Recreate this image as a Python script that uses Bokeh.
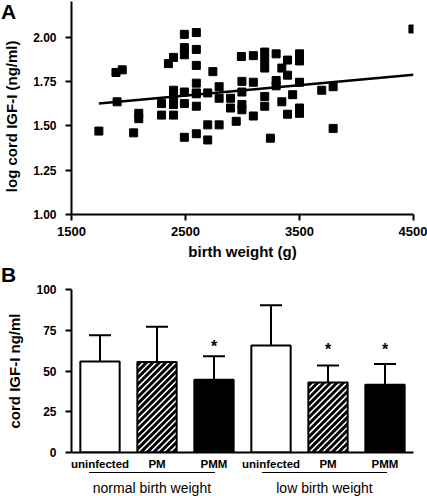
from bokeh.plotting import figure
from bokeh.models import (Range1d, FactorRange, Whisker, TeeHead, Div,
                          ColumnDataSource, FixedTicker, NumeralTickFormatter)
from bokeh.layouts import column
from bokeh.embed import file_html
from bokeh.resources import INLINE
from bokeh.core.properties import value

FONT = "Liberation Sans"

# ---------------- Panel A data ----------------
birth_weight = [1740, 1890, 1945, 1900, 2045, 2090, 2090, 2290, 2290, 2350,
                2395, 2395, 2395, 2395, 2395, 2490, 2490, 2490, 2490, 2490,
                2490, 2595, 2595, 2595, 2595, 2595, 2595, 2595, 2595, 2695,
                2695, 2695, 2740, 2795, 2795, 2795, 2895, 2895, 2945, 2990,
                2995, 2995, 2995, 2995, 3095, 3095, 3095, 3195, 3195, 3195,
                3195, 3195, 3245, 3295, 3295, 3295, 3345, 3345, 3395, 3395,
                3395, 3440, 3500, 3500, 3500, 3500, 3500, 3695, 3795, 3795,
                4495]
log_igf = [1.47, 1.80, 1.815, 1.635, 1.46, 1.57, 1.54, 1.625, 1.56, 1.85,
           1.885, 1.70, 1.66, 1.62, 1.56, 2.015, 1.94, 1.90, 1.69, 1.625,
           1.435, 2.025, 1.93, 1.84, 1.74, 1.685, 1.61, 1.455, 1.68, 1.685,
           1.505, 1.42, 1.805, 1.72, 1.655, 1.505, 1.655, 1.60, 1.525, 1.89,
           1.75, 1.69, 1.62, 1.59, 1.895, 1.745, 1.555, 1.915, 1.87, 1.825,
           1.665, 1.61, 1.43, 1.905, 1.755, 1.725, 1.825, 1.635, 1.87, 1.785,
           1.565, 1.675, 1.905, 1.865, 1.745, 1.60, 1.57, 1.70, 1.72, 1.485,
           2.045]
fit_bw = [1740, 4500]
fit_log_igf = [1.625, 1.787]
a_xticks = [1500, 2500, 3500, 4500]
a_yticks = [1.00, 1.25, 1.50, 1.75, 2.00]

# ---------------- Panel B data ----------------
groups = ["normal birth weight", "low birth weight"]
infection = ["uninfected", "PM", "PMM"]
igf_mean = [55.9, 55.5, 44.7, 65.6, 43.0, 41.6]
igf_sd = [16.0, 21.7, 14.3, 24.8, 10.4, 12.7]
signif = ["", "", "*", "", "*", "*"]
signif_y = [0, 0, 65.0, 0, 63.3, 63.3]
b_yticks = [0, 25, 50, 75, 100]

# ---------------- layout constants ----------------
W = 427
LEFT, RIGHT = 68, 14
A_H, B_H, C_H = 262, 210, 24
B_TOP, B_BOTTOM = 27, 19
FRAME_W = W - LEFT - RIGHT
FRAME_H_B = B_H - B_TOP - B_BOTTOM
BAR_W = 0.69


def style_axis(ax, label_size):
    ax.axis_line_width = 2
    ax.axis_line_color = "black"
    ax.major_tick_line_width = 2
    ax.major_tick_line_color = "black"
    ax.major_tick_in = 0
    ax.major_tick_out = 6
    ax.minor_tick_line_color = None
    ax.major_label_text_font = FONT
    ax.major_label_text_font_style = "bold"
    ax.major_label_text_font_size = label_size
    ax.major_label_text_color = "black"
    ax.axis_label_text_font = FONT
    ax.axis_label_text_font_style = "bold"
    ax.axis_label_text_font_size = "15px"
    ax.axis_label_text_color = "black"


def panel_letter(letter, top, flow_height):
    # bold panel letter laid over the top-left corner of the figure above it
    h = 24
    return Div(text=letter, width=24, height=h,
               margin=(-(flow_height - top), 0, flow_height - top - h, 1),
               styles={"font-family": FONT, "font-weight": "bold",
                       "font-size": "21px", "line-height": "21px",
                       "color": "black"})


# ---------------- Panel A ----------------
pA = figure(width=W, height=A_H, x_range=Range1d(1500, 4500),
            y_range=Range1d(1.0, 2.2), output_backend="svg",
            toolbar_location=None, min_border_left=LEFT,
            min_border_right=RIGHT, min_border_top=1, min_border_bottom=45)
pA.outline_line_color = None
pA.grid.grid_line_color = None
pA.border_fill_color = None

pA.scatter(birth_weight, log_igf, marker="square", size=8,
           fill_color="black", line_color="black")
pA.line(fit_bw, fit_log_igf, line_width=2.5, line_color="black")

style_axis(pA.xaxis[0], "13px")
style_axis(pA.yaxis[0], "12px")
pA.xaxis.ticker = FixedTicker(ticks=a_xticks)
pA.yaxis.ticker = FixedTicker(ticks=a_yticks)
pA.yaxis.formatter = NumeralTickFormatter(format="0.00")
pA.xaxis.axis_label = "birth weight (g)"
pA.yaxis.axis_label = "log cord IGF-I (ng/ml)" + "\u00a0" * 4
pA.xaxis.major_label_standoff = 6
pA.xaxis.axis_label_standoff = 4
pA.yaxis.major_label_standoff = 9
pA.yaxis.axis_label_standoff = 10

# ---------------- Panel B ----------------
# distinct factor keys (second group carries a zero-width space)
factors = [i for i in infection] + [i + "\u200b" for i in infection]
fill = ["white" if i != "PMM" else "black" for i in infection] * len(groups)
fill = ["black" if i == "PM" else f for i, f in zip(infection * 2, fill)]
upper = [m + s for m, s in zip(igf_mean, igf_sd)]
src = ColumnDataSource(dict(x=factors, mean=igf_mean, upper=upper, fill=fill))
star_src = ColumnDataSource(dict(x=factors, y=signif_y, t=signif))

xr = FactorRange(*factors, factor_padding=0, range_padding=0)
pB = figure(width=W, height=B_H, x_range=xr,
            y_range=Range1d(0, 100), output_backend="svg",
            toolbar_location=None, min_border_left=LEFT,
            min_border_right=RIGHT, min_border_top=B_TOP,
            min_border_bottom=B_BOTTOM)
pB.outline_line_color = None
pB.grid.grid_line_color = None
pB.border_fill_color = None

pB.vbar(x="x", top="mean", width=BAR_W, source=src, fill_color="fill",
        line_color=None)

# white diagonal stripes (///) inside the PM bars, derived from bar geometry
px_per_cat = FRAME_W / len(factors)
px_per_val = FRAME_H_B / 100.0
period = 6.5
sx0, sy0, sx1, sy1 = [], [], [], []
for k, (inf, m) in enumerate(zip(infection * 2, igf_mean)):
    if inf != "PM":
        continue
    L = (k + 0.5 - BAR_W / 2) * px_per_cat
    R = (k + 0.5 + BAR_W / 2) * px_per_cat
    H = m * px_per_val
    c = L - H
    while c < R:
        xa, xb = max(L, c), min(R, c + H)
        if xb > xa:
            sx0.append(xa / px_per_cat)
            sy0.append((xa - c) / px_per_val)
            sx1.append(xb / px_per_cat)
            sy1.append((xb - c) / px_per_val)
        c += period
pB.segment(x0=sx0, y0=sy0, x1=sx1, y1=sy1, line_color="white",
           line_width=1.6)

pB.vbar(x="x", top="mean", width=BAR_W, source=src, fill_color=None,
        line_color="black", line_width=2)
pB.add_layout(Whisker(base="x", lower="mean", upper="upper", source=src,
                      dimension="height", line_width=2, line_color="black",
                      lower_head=None,
                      upper_head=TeeHead(size=22, line_width=2,
                                         line_color="black")))
pB.text(x="x", y="y", text="t", source=star_src, text_align="center",
        text_baseline="middle", text_font=value(FONT),
        text_font_style="bold", text_font_size="16px", text_color="black")

style_axis(pB.xaxis[0], "11.5px")
style_axis(pB.yaxis[0], "12px")
pB.yaxis.ticker = FixedTicker(ticks=b_yticks)
pB.yaxis.axis_label = "cord IGF-I ng/ml"
pB.yaxis.major_label_standoff = 9
pB.yaxis.axis_label_standoff = 10
pB.xaxis.major_tick_line_color = None
pB.xaxis.major_tick_out = 0
pB.xaxis.major_label_standoff = 5

# ---------------- group brackets under panel B (HTML) ----------------
parts = []
for gi, g in enumerate(groups):
    x0 = LEFT + (gi * len(infection) + 0.37) * px_per_cat
    x1 = LEFT + (gi * len(infection) + 2.55) * px_per_cat
    parts.append(
        f'<div style="position:absolute;left:{x0:.1f}px;top:0px;'
        f'width:{x1 - x0:.1f}px;border-top:1.2px solid black;'
        f'padding-top:7px;text-align:center;white-space:nowrap;'
        f'font-family:\'{FONT}\';font-size:14px;line-height:16px;'
        f'color:black">{g}</div>')
brackets = Div(text=(f'<div style="position:relative;width:{W}px;'
                     f'height:{C_H}px">' + "".join(parts) + "</div>"),
               width=W, height=C_H, margin=(0, 0, 0, 0))

layout = column(pA, panel_letter("A", 1, A_H),
                pB, panel_letter("B", 2, B_H),
                brackets, spacing=0)

open("out.html", "w").write(file_html(layout, INLINE))
